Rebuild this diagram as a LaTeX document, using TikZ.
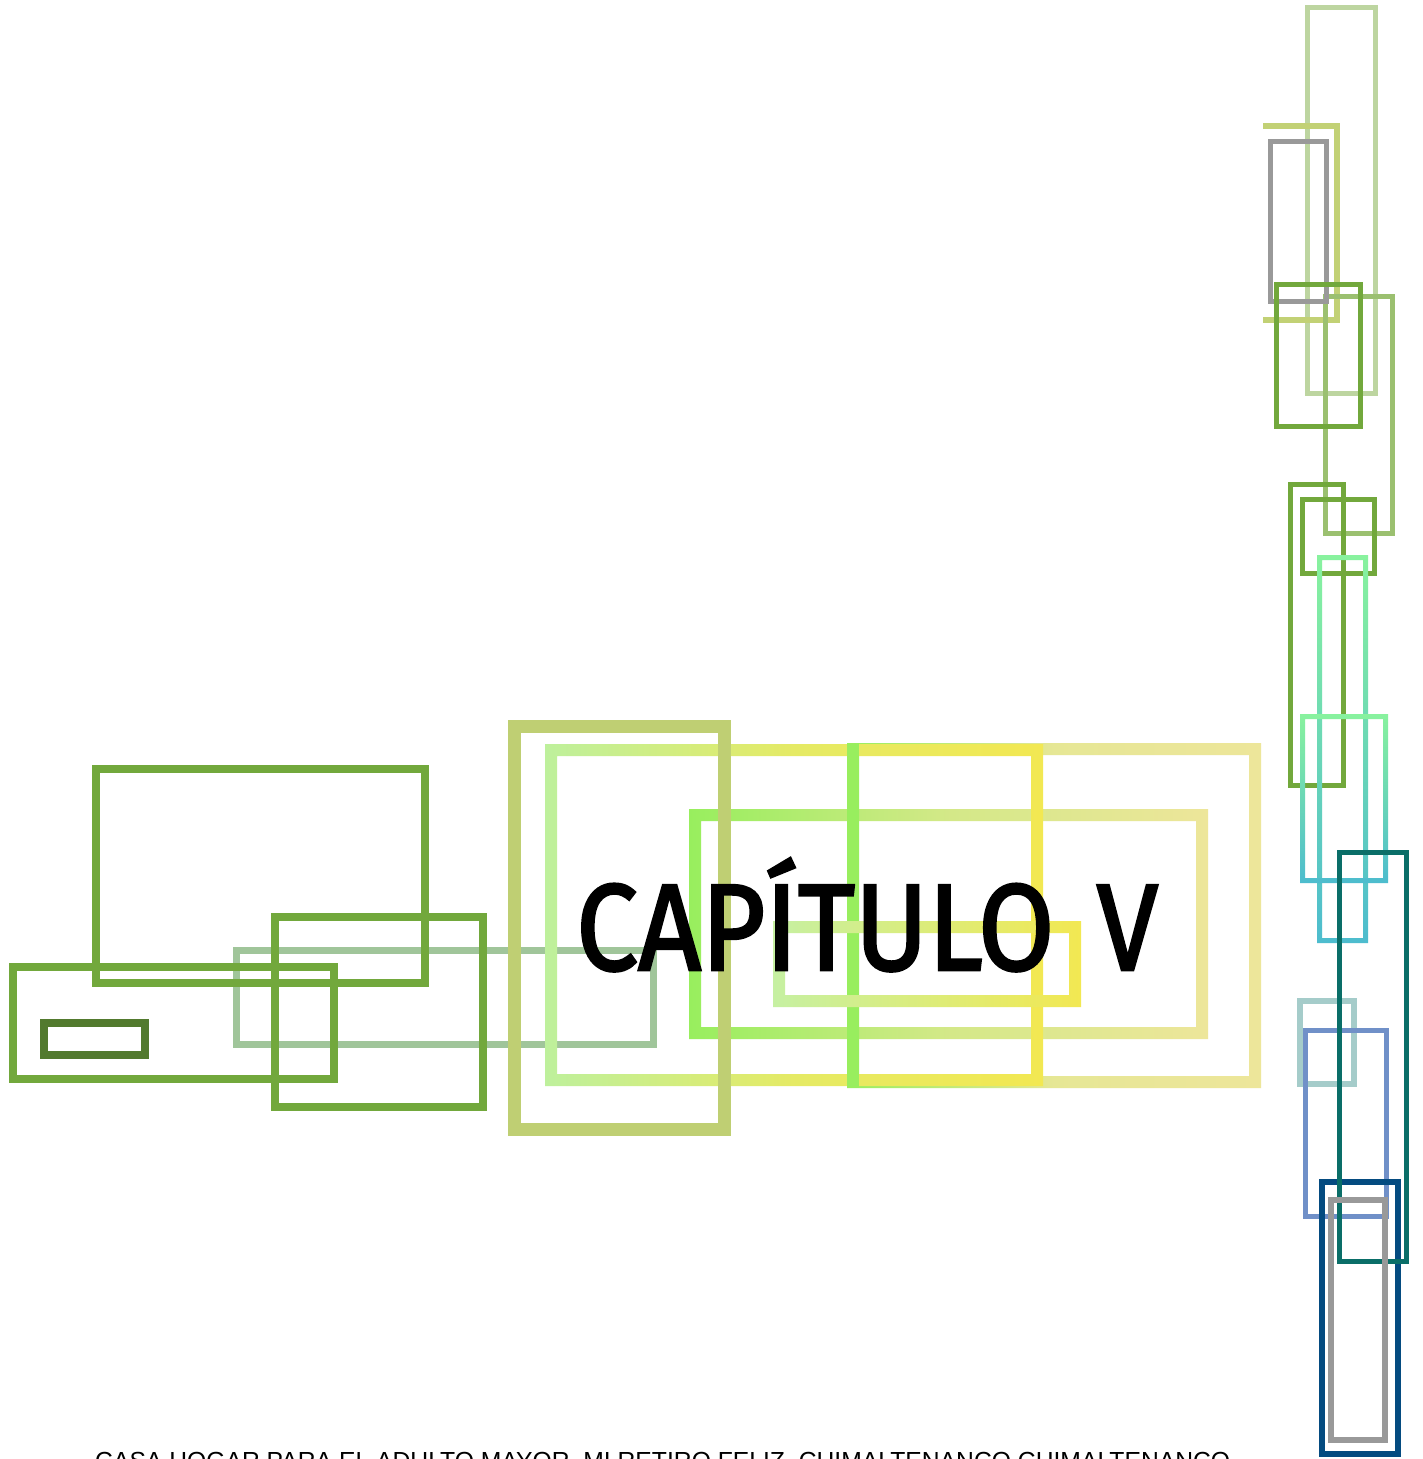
\documentclass[tikz,border=0pt]{standalone}
\usepackage{fontspec}
\usepackage{graphicx}
\newfontfamily\capfont{Fira Sans}[FakeBold=2.2]
\newfontfamily\footfont{Liberation Sans}
\definecolor{mgreen}{HTML}{72A83C}
\definecolor{dgreen}{HTML}{527A2E}
\definecolor{ggreen}{HTML}{A0C59A}
\definecolor{olivec}{HTML}{BFCF73}
\definecolor{palegreen}{HTML}{BDD5A0}
\definecolor{oliveyel}{HTML}{C2D175}
\definecolor{greyc}{HTML}{999999}
\definecolor{sage}{HTML}{9BC070}
\definecolor{tealc}{HTML}{0A6E68}
\definecolor{greyblue}{HTML}{A5CCCA}
\definecolor{bluec}{HTML}{7090C8}
\definecolor{navy}{HTML}{044B80}
\definecolor{mint}{HTML}{88F29E}
\definecolor{cyanc}{HTML}{4DBCCE}
\definecolor{brgreen}{HTML}{98EE5E}
\definecolor{paleyel}{HTML}{EDE69A}
\definecolor{yel}{HTML}{F2E852}
\definecolor{lgreen}{HTML}{BEF09C}
\definecolor{lgreenb}{HTML}{C6F0A2}
\tikzset{
  thinbox/.style={line width=5pt},
  midbox/.style={line width=6pt},
  box/.style={line width=8pt},
  heavybox/.style={line width=13pt},
}
\begin{document}
\begin{tikzpicture}[x=1pt,y=-1pt]
\useasboundingbox (0,0) rectangle (1423,1459);
\clip (0,0) rectangle (1423,1459);
\fill[white] (0,0) rectangle (1423,1459);

% ---- left group ----
\draw[ggreen, line width=7pt] (236,950) rectangle (653,1044);
\draw[mgreen, box] (96,769) rectangle (425,983);
\draw[mgreen, box] (13,967) rectangle (334,1079);
\draw[dgreen, box] (44,1023) rectangle (145,1055);
\draw[mgreen, box] (275,917) rectangle (483,1107);

% ---- central gradient frames ----
\shade[left color=brgreen, right color=paleyel, middle color=paleyel!70!brgreen, even odd rule]
  (689,809) rectangle (1208,1039) (701,821) rectangle (1196,1027);
\shade[left color=brgreen, right color=paleyel, middle color=paleyel!92!brgreen, even odd rule]
  (847,743) rectangle (1261,1088) (859,755) rectangle (1249,1076);
\shade[left color=lgreen, right color=yel, middle color=yel!75!lgreen, even odd rule]
  (545,744) rectangle (1043,1086) (557,756) rectangle (1031,1074);
\fill[brgreen] (847,743) rectangle (859,1088);
\shade[left color=lgreenb, right color=yel, even odd rule]
  (773,921) rectangle (1081,1007) (785,933) rectangle (1069,995);
\draw[olivec, heavybox] (514.5,726.5) rectangle (724.5,1129.5);

% ---- right column ----
\draw[palegreen, thinbox] (1307.5,7) rectangle (1375.5,393);
\draw[oliveyel, midbox] (1263,126) -- (1337,126) -- (1337,320) -- (1263,320);
\draw[sage, thinbox] (1325,296) rectangle (1392,533);
\draw[greyc, thinbox] (1270.5,141) rectangle (1326,301);
\draw[mgreen, thinbox] (1276.5,284.5) rectangle (1360.5,426.5);
\draw[mgreen, thinbox] (1290.5,484) rectangle (1343.5,785);
\draw[mgreen, thinbox] (1302.5,499) rectangle (1374.5,573);
\shade[top color=mint, bottom color=cyanc, even odd rule]
  (1317,555) rectangle (1368,943) (1322,560) rectangle (1363,938);
\shade[top color=mint, bottom color=cyanc, even odd rule]
  (1300,714) rectangle (1388,883) (1305,719) rectangle (1383,878);
\draw[greyblue, midbox] (1300,1001) rectangle (1354,1084);
\draw[bluec, thinbox] (1305.5,1030.5) rectangle (1386.5,1216.5);
\draw[navy, midbox] (1322,1182) rectangle (1398,1454);
\draw[tealc, thinbox] (1339.5,852.5) rectangle (1406.5,1261.5);
\draw[greyc, midbox] (1331,1200) rectangle (1385,1440);

% ---- texts ----
\node[anchor=base west, inner sep=0pt] (title) at (576,970)
  {\resizebox{582pt}{\height}{\capfont\fontsize{123pt}{130pt}\selectfont CAPÍTULO\hspace{0.12em} V}};
\node[anchor=north west, inner sep=0pt] (foot) at (95,1452)
  {\resizebox{1135pt}{!}{\footfont CASA HOGAR PARA EL ADULTO MAYOR, MI RETIRO FELIZ, CHIMALTENANCO CHIMALTENANCO}};
\end{tikzpicture}
\end{document}
